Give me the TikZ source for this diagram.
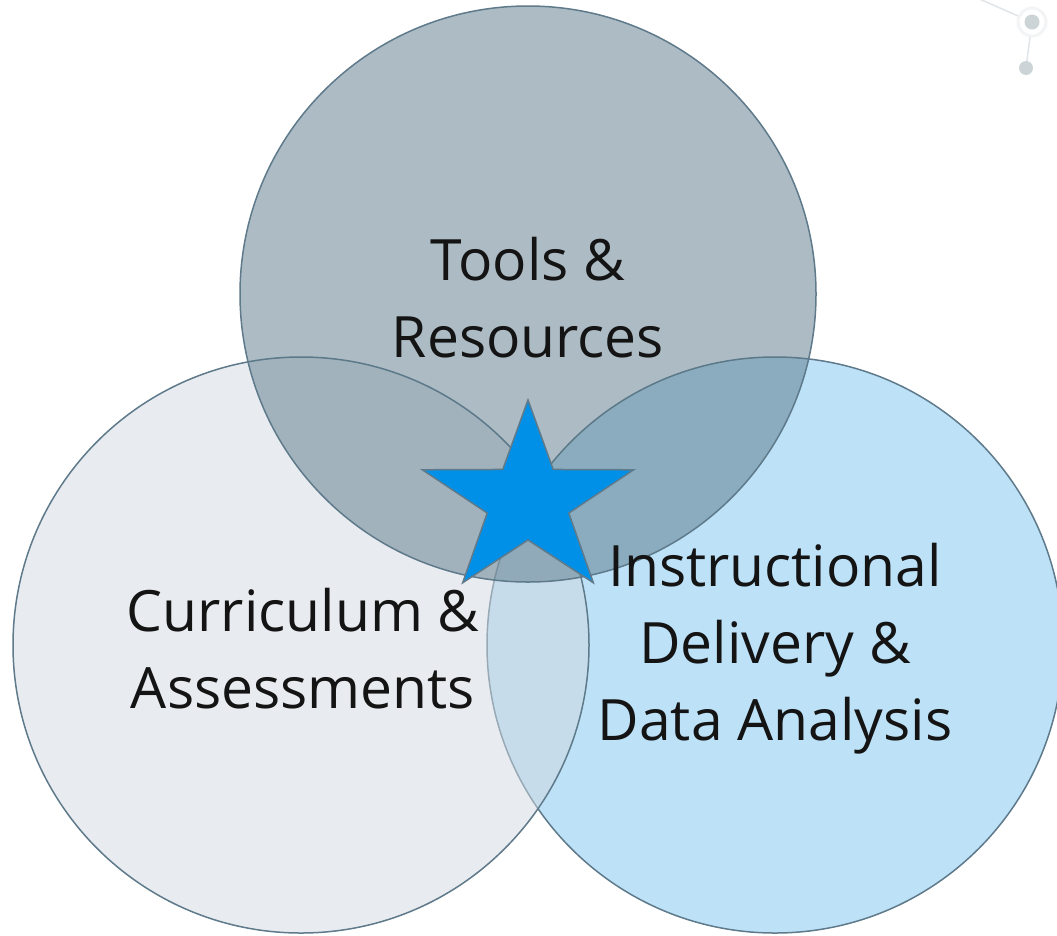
\documentclass[tikz,border=0pt]{standalone}
\usepackage{fontspec}
\setmainfont{Open Sans}
\usetikzlibrary{positioning}

\definecolor{edgegray}{HTML}{5F7A8A}
\definecolor{toolsfill}{RGB}{91,121,137}
\definecolor{curricfill}{RGB}{209,217,225}
\definecolor{delivfill}{HTML}{BDE1F7}
\definecolor{starblue}{HTML}{0090E8}
\definecolor{dotgray}{HTML}{CDD4D8}
\definecolor{txtgray}{HTML}{141414}

\begin{document}
\begin{tikzpicture}[x=1pt, y=-1pt,
  every node/.style={font=\fontsize{57}{77}\selectfont, text=txtgray, align=center},
  venn/.style={circle, draw=edgegray, line width=1.5pt, minimum size=576pt, inner sep=0pt}]

  % page frame
  \useasboundingbox (0,0) rectangle (1057,935);

  % faint background decoration, top right
  \draw[dotgray!60, line width=1.5pt] (977,-2) -- (1032,22) -- (1026,68);
  \draw[dotgray!25, line width=3pt, fill=white] (1032,22) circle (14);
  \fill[dotgray] (1032,22) circle (7.5);
  \fill[dotgray] (1026,68) circle (7);

  % the three circles
  \node[venn, fill=delivfill] (delivcirc) at (775,645) {};
  \node[venn, fill=curricfill, fill opacity=0.5] (curriccirc) at (301,645) {};
  \node[venn, fill=toolsfill, fill opacity=0.5] (toolscirc) at (528,294) {};

  % labels
  \node (tools) at ([yshift=-4pt]toolscirc.center) {Tools \&\\Resources};
  \node (curric) at ([xshift=2pt, yshift=-4pt]curriccirc.center) {Curriculum \&\\Assessments};
  \node (deliv) at ([yshift=-4pt]delivcirc.center) {Instructional\\Delivery \&\\Data Analysis};

  % star in the middle
  \draw[fill=starblue, draw=edgegray, line width=1.5pt, line join=miter]
    (528,400) \foreach \a in {1,...,9}{
      -- ({528+1.1*(mod(\a,2)==0 ? 101 : 39)*sin(36*\a)}, {501-(mod(\a,2)==0 ? 101 : 39)*cos(36*\a)})
    } -- cycle;

\end{tikzpicture}
\end{document}
